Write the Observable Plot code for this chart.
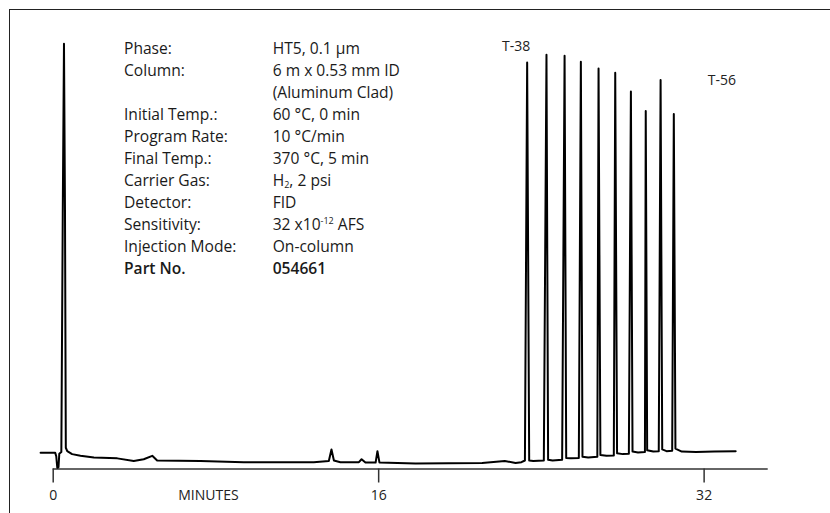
<!DOCTYPE html>
<html>
<head>
<meta charset="utf-8">
<script src="https://cdn.jsdelivr.net/npm/d3@7"></script>
<script src="https://cdn.jsdelivr.net/npm/@observablehq/plot@0.6"></script>
<style>
  html, body { margin: 0; padding: 0; background: #fff; }
  #wrap { position: relative; width: 830px; height: 513px; overflow: hidden; font-family: "Open Sans", sans-serif; color: #1a1a1a; }
  #frame { position: absolute; left: 8.5px; top: 8.5px; width: 900px; height: 600px; border-left: 1.6px solid #222; border-top: 1.6px solid #222; box-sizing: border-box; }
  #params { position: absolute; left: 124px; top: 37px; display: grid; grid-template-columns: 148.7px auto; font-size: 15.6px; line-height: 22px; color: #1a1a1a; }
  #params .b { font-weight: 600; }
  #params sub, #params sup { font-size: 9px; line-height: 0; vertical-align: baseline; position: relative; }
  #params sub { top: 2px; }
  #params sup { top: -6px; }
  #chart { position: absolute; left: 0; top: 0; }
</style>
</head>
<body>
<div id="wrap">
  <div id="frame"></div>
  <div id="chart"></div>
  <div id="params"></div>
</div>
<script>
// Chromatogram trace: retention time (minutes) and detector signal (relative units)
const times = [
  -0.62, 0.10, 0.15, 0.20, 0.26, 0.30, 0.40, 0.47, 0.53, 0.58, 0.62, 0.69, 0.93, 1.34, 2.00, 3.15, 3.96, 4.45, 4.87, 5.11,
  7.24, 9.37, 12.81, 13.55, 13.68, 13.80, 14.12, 15.03, 15.16, 15.35, 15.85, 15.94, 16.04, 17.81, 21.09, 22.20, 22.73, 23.02,
  23.19, 23.30, 23.40, 23.60,
  24.12, 24.25, 24.33, 24.55,
  25.02, 25.14, 25.22, 25.45,
  25.84, 25.94, 26.02, 26.30,
  26.75, 26.81, 26.90, 27.20,
  27.56, 27.63, 27.72, 28.00,
  28.30, 28.40, 28.48, 28.75,
  29.09, 29.13, 29.20, 29.50,
  29.77, 29.86, 29.94, 30.15,
  30.43, 30.51, 30.59, 30.90,
  31.60, 32.50, 33.55
];
const signal = [
  3.8, 3.8, 3.0, 0.3, 0.4, 3.6, 4.0, 60, 100, 60, 5.0, 4.2, 3.5, 3.1, 2.7, 2.5, 1.9, 2.3, 3.1, 2.0,
  1.9, 1.6, 1.6, 1.9, 4.6, 2.0, 1.6, 1.6, 2.3, 1.5, 1.5, 4.2, 1.5, 1.3, 1.4, 1.9, 1.4, 1.6,
  2.0, 95.6, 2.0, 1.9,
  2.0, 97.4, 2.2, 2.0,
  2.2, 97.2, 2.6, 2.5,
  2.6, 95.8, 2.9, 2.7,
  2.9, 94.2, 3.3, 3.1,
  3.2, 93.2, 3.7, 3.5,
  3.6, 88.8, 4.1, 3.9,
  4.0, 84.2, 4.4, 4.1,
  4.2, 91.5, 4.6, 4.2,
  4.3, 83.5, 4.8, 4.1,
  4.0, 4.1, 4.2
];

// Labelled peaks (first and last of the T-38 ... T-56 series)
const peakLabels = ["T-38", "T-56"];
const peakTimes = [23.30, 30.51];
const peakHeights = [95.6, 83.5];

// Axis
const xTicks = [0, 16, 32];
const xDomain = [0, 35.15];
const yDomain = [0, 100];
const axisTitle = "MINUTES";
const axisTitleAt = [7.63];

// Operating conditions
const paramLabels = ["Phase:", "Column:", "", "Initial Temp.:", "Program Rate:", "Final Temp.:", "Carrier Gas:", "Detector:", "Sensitivity:", "Injection Mode:", "Part No."];
const paramValues = ["HT5, 0.1 µm", "6 m x 0.53 mm ID", "(Aluminum Clad)", "60 °C, 0 min", "10 °C/min", "370 °C, 5 min", "H<sub>2</sub>, 2 psi", "FID", "32 x10<sup>-12</sup> AFS", "On-column", "054661"];

const trace = times.map((t, i) => ({t, v: signal[i]}));
const labels = peakLabels.map((s, i) => ({s, t: peakTimes[i], v: peakHeights[i]}));

const chart = Plot.plot({
  width: 830,
  height: 513,
  marginLeft: 52.7,
  marginRight: 62.3,
  marginTop: 43.3,
  marginBottom: 44.5,
  style: {fontFamily: "Open Sans, sans-serif", background: "transparent", overflow: "visible"},
  x: {domain: xDomain},
  y: {domain: yDomain, axis: null},
  marks: [
    Plot.ruleY([0], {stroke: "#333", strokeWidth: 1.3}),
    Plot.axisX({ticks: xTicks, tickSize: 14, tickPadding: 7, fontSize: 14, stroke: "#333", strokeWidth: 1.5, fill: "#222", tickFormat: d => String(d), label: null}),
    Plot.text(axisTitleAt, {x: d => d, frameAnchor: "bottom", dy: 27, text: () => axisTitle, fontSize: 14, fill: "#222", lineAnchor: "middle"}),
    Plot.line(trace, {x: "t", y: "v", stroke: "#000", strokeWidth: 2, strokeLinejoin: "round", clip: false}),
    Plot.text(labels.slice(0, 1), {x: "t", y: "v", text: "s", dx: -11, dy: -16, fontSize: 14, fill: "#222"}),
    Plot.text(labels.slice(1), {x: "t", y: "v", text: "s", dx: 48, dy: -33, fontSize: 14, fill: "#222"})
  ]
});
document.getElementById("chart").appendChild(chart);

const params = document.getElementById("params");
paramLabels.forEach((l, i) => {
  const a = document.createElement("div");
  const b = document.createElement("div");
  a.textContent = l;
  b.innerHTML = paramValues[i];
  if (i === paramLabels.length - 1) { a.className = "b"; b.className = "b"; }
  params.appendChild(a);
  params.appendChild(b);
});
</script>
</body>
</html>
